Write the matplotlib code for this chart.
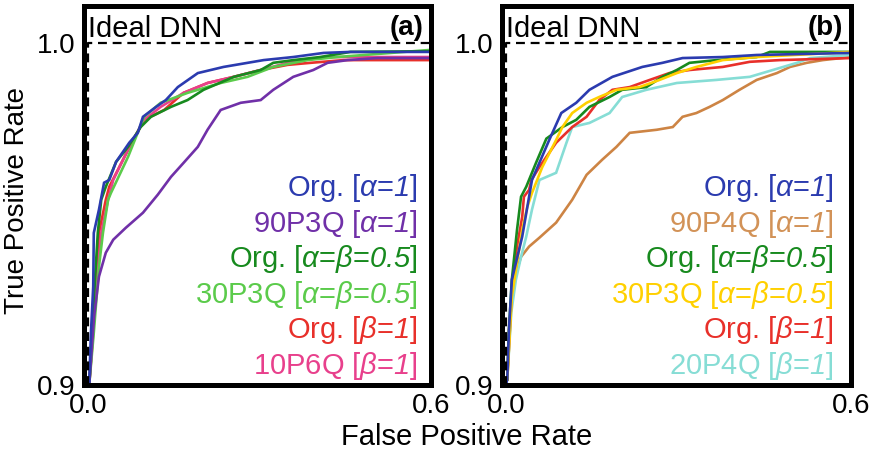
import matplotlib
matplotlib.use("Agg")
import matplotlib.pyplot as plt

plt.rcParams['font.family'] = ['Liberation Sans', 'DejaVu Sans']
plt.rcParams['mathtext.fontset'] = 'custom'
plt.rcParams['mathtext.rm'] = 'Liberation Sans:italic'
plt.rcParams['mathtext.it'] = 'Liberation Sans:italic'
plt.rcParams['mathtext.bf'] = 'Liberation Sans:bold'

# ---------------- data: panel (a) ----------------
a_org_alpha_x = [0.0, 0.002, 0.005, 0.009, 0.010, 0.019, 0.028, 0.037, 0.049, 0.072, 0.087, 0.096, 0.119, 0.136, 0.157, 0.192, 0.237, 0.307, 0.359, 0.412, 0.459, 0.6]
a_org_alpha_y = [0.9, 0.9006, 0.9152, 0.9287, 0.9444, 0.9512, 0.9591, 0.9599, 0.9652, 0.9708, 0.9737, 0.9784, 0.9813, 0.9833, 0.9871, 0.9912, 0.9930, 0.9950, 0.9959, 0.9971, 0.9974, 0.9974]

a_90p3q_x = [0.002, 0.0105, 0.019, 0.031, 0.044, 0.066, 0.096, 0.122, 0.145, 0.167, 0.192, 0.209, 0.232, 0.267, 0.302, 0.324, 0.359, 0.394, 0.419, 0.454, 0.506, 0.6]
a_90p3q_y = [0.9, 0.9199, 0.9316, 0.9386, 0.9424, 0.9459, 0.9503, 0.9556, 0.9608, 0.9649, 0.9696, 0.9746, 0.9804, 0.9825, 0.9833, 0.9863, 0.9901, 0.9921, 0.9942, 0.9950, 0.9956, 0.9956]

a_org_ab_x = [0.002, 0.010, 0.017, 0.023, 0.031, 0.049, 0.070, 0.092, 0.110, 0.145, 0.174, 0.202, 0.255, 0.302, 0.324, 0.359, 0.406, 0.459, 0.6]
a_org_ab_y = [0.9, 0.9249, 0.9444, 0.9541, 0.9579, 0.9652, 0.9696, 0.9754, 0.9784, 0.9813, 0.9833, 0.9863, 0.9901, 0.9921, 0.9942, 0.9950, 0.9959, 0.9974, 0.9976]

a_30p3q_x = [0.002, 0.010, 0.019, 0.026, 0.035, 0.040, 0.070, 0.098, 0.127, 0.174, 0.232, 0.279, 0.324, 0.384, 0.436, 0.6]
a_30p3q_y = [0.9, 0.9152, 0.9345, 0.9444, 0.9541, 0.9561, 0.9667, 0.9784, 0.9825, 0.9854, 0.9883, 0.9901, 0.9930, 0.9950, 0.9959, 0.9980]

a_org_beta_x = [0.002, 0.009, 0.019, 0.031, 0.037, 0.070, 0.098, 0.133, 0.167, 0.209, 0.255, 0.302, 0.349, 0.389, 0.447, 0.6]
a_org_beta_y = [0.9, 0.9152, 0.9444, 0.9541, 0.9579, 0.9687, 0.9775, 0.9804, 0.9854, 0.9883, 0.9901, 0.9921, 0.9936, 0.9942, 0.9950, 0.9950]

a_10p6q_x = [0.002, 0.010, 0.023, 0.035, 0.044, 0.072, 0.098, 0.127, 0.167, 0.209, 0.255, 0.302, 0.349, 0.412, 0.6]
a_10p6q_y = [0.9, 0.9199, 0.9444, 0.9541, 0.9599, 0.9696, 0.9775, 0.9813, 0.9854, 0.9883, 0.9901, 0.9921, 0.9942, 0.9959, 0.9959]

# ---------------- data: panel (b) ----------------
b_org_alpha_x = [0.0, 0.002, 0.005, 0.010, 0.028, 0.045, 0.075, 0.096, 0.122, 0.145, 0.185, 0.237, 0.272, 0.307, 0.377, 0.436, 0.6]
b_org_alpha_y = [0.9, 0.9015, 0.9161, 0.9307, 0.9433, 0.9599, 0.9716, 0.9795, 0.9825, 0.9863, 0.9901, 0.9930, 0.9942, 0.9956, 0.9959, 0.9965, 0.9971]

b_90p4q_x = [0.002, 0.005, 0.010, 0.017, 0.026, 0.040, 0.058, 0.087, 0.115, 0.140, 0.167, 0.192, 0.215, 0.262, 0.290, 0.307, 0.331, 0.354, 0.377, 0.406, 0.436, 0.471, 0.494, 0.523, 0.551, 0.6]
b_90p4q_y = [0.9015, 0.9161, 0.9257, 0.9327, 0.9374, 0.9404, 0.9430, 0.9474, 0.9541, 0.9614, 0.9658, 0.9696, 0.9737, 0.9746, 0.9754, 0.9784, 0.9795, 0.9813, 0.9833, 0.9863, 0.9892, 0.9912, 0.9930, 0.9942, 0.9950, 0.9959]

b_org_ab_x = [0.002, 0.005, 0.010, 0.019, 0.026, 0.035, 0.052, 0.070, 0.098, 0.122, 0.145, 0.180, 0.202, 0.244, 0.272, 0.297, 0.319, 0.366, 0.436, 0.459, 0.6]
b_org_ab_y = [0.9015, 0.9161, 0.9307, 0.9453, 0.9550, 0.9579, 0.9649, 0.9720, 0.9754, 0.9775, 0.9813, 0.9842, 0.9863, 0.9871, 0.9901, 0.9921, 0.9942, 0.9950, 0.9959, 0.9974, 0.9974]

b_30p3q_x = [0.002, 0.010, 0.019, 0.028, 0.037, 0.045, 0.063, 0.087, 0.098, 0.115, 0.140, 0.162, 0.192, 0.232, 0.267, 0.297, 0.331, 0.377, 0.436, 0.6]
b_30p3q_y = [0.9015, 0.9257, 0.9357, 0.9453, 0.9521, 0.9561, 0.9637, 0.9716, 0.9754, 0.9795, 0.9825, 0.9842, 0.9863, 0.9871, 0.9892, 0.9912, 0.9930, 0.9950, 0.9959, 0.9974]

b_org_beta_x = [0.002, 0.005, 0.010, 0.019, 0.028, 0.031, 0.040, 0.044, 0.058, 0.087, 0.115, 0.140, 0.162, 0.185, 0.215, 0.250, 0.284, 0.319, 0.377, 0.424, 0.476, 0.6]
b_org_beta_y = [0.9015, 0.9111, 0.9278, 0.9404, 0.9491, 0.9550, 0.9570, 0.9599, 0.9637, 0.9708, 0.9754, 0.9784, 0.9833, 0.9863, 0.9871, 0.9892, 0.9912, 0.9921, 0.9930, 0.9945, 0.9950, 0.9956]

b_20p4q_x = [0.002, 0.009, 0.017, 0.026, 0.035, 0.045, 0.058, 0.087, 0.105, 0.115, 0.145, 0.180, 0.202, 0.244, 0.297, 0.366, 0.424, 0.464, 0.506, 0.529, 0.6]
b_20p4q_y = [0.9015, 0.9211, 0.9307, 0.9374, 0.9433, 0.9512, 0.9599, 0.9620, 0.9708, 0.9754, 0.9766, 0.9795, 0.9842, 0.9863, 0.9883, 0.9892, 0.9901, 0.9921, 0.9942, 0.9956, 0.9965]

x_ticks = [0.0, 0.6]
x_tick_labels = ['0.0', '0.6']
y_ticks = [0.9, 1.0]
y_tick_labels = ['0.9', '1.0']

C_BLUE = '#2B3BAF'
C_PURPLE = '#7030A8'
C_DGREEN = '#178A1E'
C_LGREEN = '#5BCB4B'
C_RED = '#E8302A'
C_PINK = '#E8408C'
C_BROWN = '#CD8444'
C_YELLOW = '#FFD000'
C_CYAN = '#86DDD5'

L_ORG_A = r'Org. [$\alpha$=$1$]'
L_ORG_AB = r'Org. [$\alpha$=$\beta$=$0.5$]'
L_ORG_B = r'Org. [$\beta$=$1$]'

panel_a = [
    (a_org_beta_x, a_org_beta_y, C_RED),
    (a_10p6q_x, a_10p6q_y, C_PINK),
    (a_30p3q_x, a_30p3q_y, C_LGREEN),
    (a_org_ab_x, a_org_ab_y, C_DGREEN),
    (a_90p3q_x, a_90p3q_y, C_PURPLE),
    (a_org_alpha_x, a_org_alpha_y, C_BLUE),
]
labels_a = [
    (L_ORG_A, C_BLUE),
    (r'90P3Q [$\alpha$=$1$]', C_PURPLE),
    (L_ORG_AB, C_DGREEN),
    (r'30P3Q [$\alpha$=$\beta$=$0.5$]', C_LGREEN),
    (L_ORG_B, C_RED),
    (r'10P6Q [$\beta$=$1$]', C_PINK),
]
panel_b = [
    (b_90p4q_x, b_90p4q_y, C_BROWN),
    (b_20p4q_x, b_20p4q_y, C_CYAN),
    (b_org_beta_x, b_org_beta_y, C_RED),
    (b_org_ab_x, b_org_ab_y, C_DGREEN),
    (b_30p3q_x, b_30p3q_y, C_YELLOW),
    (b_org_alpha_x, b_org_alpha_y, C_BLUE),
]
labels_b = [
    (L_ORG_A, C_BLUE),
    (r'90P4Q [$\alpha$=$1$]', '#D29257'),
    (L_ORG_AB, C_DGREEN),
    (r'30P3Q [$\alpha$=$\beta$=$0.5$]', C_YELLOW),
    (L_ORG_B, C_RED),
    (r'20P4Q [$\beta$=$1$]', C_CYAN),
]

fig = plt.figure(figsize=(8.8, 4.57), dpi=100)
ax_a = fig.add_axes([0.0949, 0.1586, 0.4898 - 0.0949, 0.9858 - 0.1586])
ax_b = fig.add_axes([0.5699, 0.1586, 0.9670 - 0.5699, 0.9858 - 0.1586])


def draw(ax, curves, labels, tag, label_right):
    for xs, ys, c in curves:
        ax.plot(xs, ys, color=c, lw=1.9, solid_joinstyle='miter', zorder=3)
    ax.plot([0.0, 0.0, 0.6], [0.9, 1.0, 1.0], color='black', lw=1.6,
            linestyle=(0, (4, 2.6)), zorder=5, clip_on=False)
    ax.set_xlim(-0.008, 0.6)
    ax.set_ylim(0.9, 1.0107)
    ax.set_xticks(x_ticks)
    ax.set_xticklabels(x_tick_labels)
    ax.set_yticks(y_ticks)
    ax.set_yticklabels(y_tick_labels)
    ax.tick_params(length=0, labelsize=20, pad=6)
    for s in ax.spines.values():
        s.set_linewidth(3.6)
        s.set_color('black')
        s.set_zorder(6)
    ax.text(0.0, 1.0018, 'Ideal DNN', fontsize=21, ha='left', va='baseline', zorder=7)
    ax.text(0.587, 1.0024, tag, fontsize=20,
            fontweight='bold', ha='right', va='baseline', zorder=7)
    y0 = 0.4974
    for i, (t, c) in enumerate(labels):
        ax.text(label_right, y0 - i * 0.0939, t, transform=ax.transAxes,
                fontsize=21, color=c, ha='right', va='baseline', zorder=7)


draw(ax_a, panel_a, labels_a, '(a)', 0.961)
draw(ax_b, panel_b, labels_b, '(b)', 0.95)

fig.text(0.019, 1 - 200 / 457, 'True Positive Rate', rotation=90,
         ha='center', va='center', fontsize=20)
fig.text(467 / 880, 1 - 437 / 457, 'False Positive Rate',
         ha='center', va='center', fontsize=21)

fig.savefig('out.png', dpi=100)
